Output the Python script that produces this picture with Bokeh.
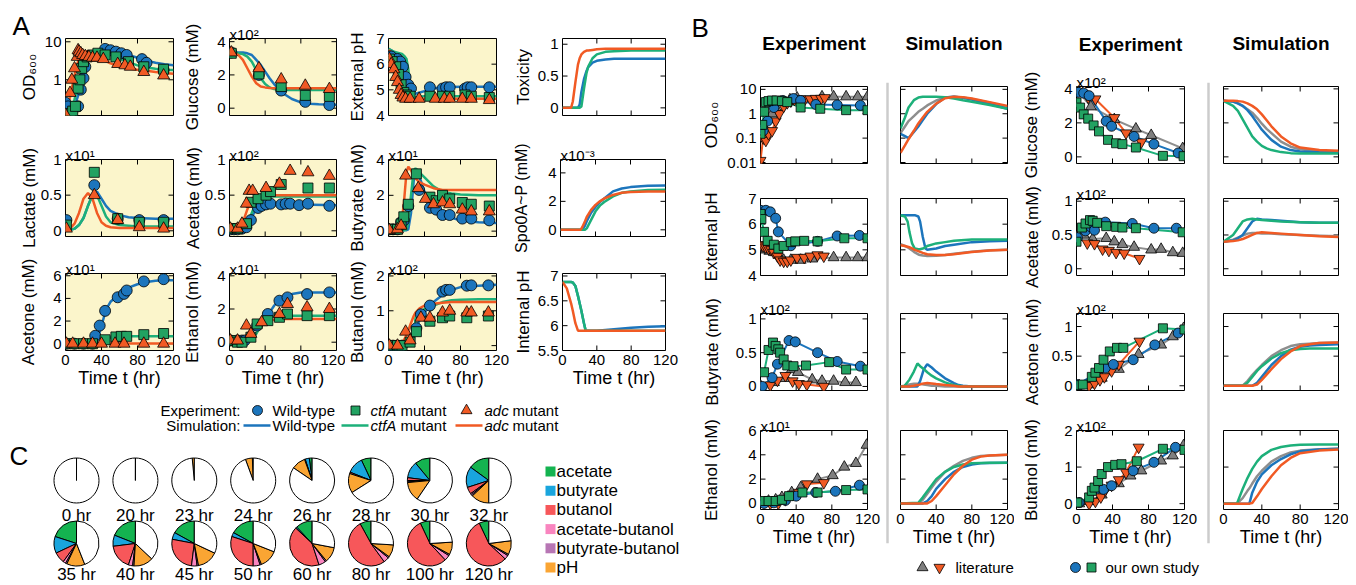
import math
from bokeh.plotting import figure
from bokeh.layouts import row, column
from bokeh.models import (Range1d, LinearAxis, LogAxis, FixedTicker, BasicTickFormatter,
                          Label, Span, Spacer)
from bokeh.embed import file_html
from bokeh.resources import INLINE
from bokeh.core.properties import value

FONT = "Liberation Sans"
BLUE = "#1C75BC"
GREEN_M = "#22A262"
GREEN_L = "#1DB07A"
RED = "#F15A24"
GRAY_M = "#7F7F7F"
GRAY_L = "#8E8E8E"
YELLOW = "#FBF5CB"
TICK_FS = 15
LAB_FS = 17
XLAB_FS = 18

TIME_TICKS = [0, 40, 80, 120]

# ======================= Panel A data =======================
a_od_wt_t = [0, 3, 14, 17, 20, 22, 44, 50, 56, 62, 68, 85, 90, 109]
a_od_wt_y = [0.25, 0.2, 0.2, 0.55, 1.1, 2.2, 6.5, 6.0, 5.5, 5.0, 4.5, 3.5, 2.8, 1.8]
a_od_ct_t = [5, 8, 11, 14, 16, 18, 20, 24, 30, 36, 44, 56, 70, 87, 109]
a_od_ct_y = [0.13, 0.15, 0.2, 0.6, 1.0, 2.0, 3.0, 4.0, 4.5, 5.0, 4.5, 4.0, 3.0, 2.2, 1.9]
a_od_adc_t = [0, 5, 7, 10, 13, 14, 15, 17, 19, 22, 26, 30, 35, 42, 58, 66, 72, 87, 109]
a_od_adc_y = [0.12, 0.45, 1.0, 2.0, 4.0, 6.0, 5.5, 5.0, 4.5, 4.2, 4.0, 3.8, 3.8, 3.5, 2.6, 2.4, 2.2, 1.6, 1.3]
a_od_sim_t = [0, 5, 10, 15, 20, 25, 30, 35, 40, 45, 50, 60, 70, 80, 90, 100, 110, 120]
a_od_sim_wt = [0.15, 0.15, 0.2, 0.45, 1.3, 3.0, 4.8, 6.0, 6.5, 6.6, 6.2, 5.2, 4.5, 3.8, 3.2, 2.8, 2.55, 2.4]
a_od_sim_ct = [0.15, 0.17, 0.3, 0.9, 2.4, 4.2, 5.3, 5.8, 5.6, 5.1, 4.5, 3.6, 2.9, 2.4, 2.1, 1.95, 1.85, 1.8]
a_od_sim_adc = [0.13, 0.35, 1.3, 3.8, 5.4, 5.6, 4.5, 4.0, 3.5, 3.1, 2.7, 2.3, 2.0, 1.85, 1.72, 1.6, 1.5, 1.45]

a_glc_t = [2, 33, 58, 85, 112]
a_glc_wt = [3.35, 2.0, 1.06, 0.38, 0.19]
a_glc_ct = [3.3, 2.06, 1.3, 0.77, 0.71]
a_glc_adc = [3.35, 2.4, 1.73, 1.35, 1.15]
a_glc_sim_t = [0, 10, 15, 20, 25, 30, 35, 40, 45, 50, 60, 70, 80, 90, 100, 120]
a_glc_sim_wt = [3.35, 3.35, 3.35, 3.3, 3.2, 2.9, 2.6, 2.2, 1.8, 1.45, 0.9, 0.55, 0.35, 0.27, 0.23, 0.2]
a_glc_sim_ct = [3.35, 3.3, 3.25, 3.1, 2.8, 2.3, 1.8, 1.45, 1.25, 1.15, 1.1, 1.1, 1.1, 1.1, 1.1, 1.1]
a_glc_sim_adc = [3.35, 3.2, 2.9, 2.4, 1.9, 1.5, 1.3, 1.25, 1.22, 1.2, 1.2, 1.2, 1.2, 1.2, 1.2, 1.2]

a_ph_wt_t = [1, 3, 10, 13, 16, 19, 22, 25, 46, 60, 64, 68, 85, 88, 92, 112]
a_ph_wt_y = [6.3, 6.3, 6.2, 6.1, 5.9, 5.5, 5.2, 5.05, 5.1, 5.05, 5.1, 5.1, 5.05, 5.1, 5.1, 5.1]
a_ph_ct_t = [1, 4, 8, 11, 14, 17, 20, 24, 46, 60, 68, 85, 92, 112]
a_ph_ct_y = [6.2, 6.1, 5.9, 5.6, 5.2, 4.9, 4.8, 4.75, 4.75, 4.75, 4.75, 4.8, 4.75, 4.7]
a_ph_adc_t = [1, 3, 6, 8, 10, 12, 14, 16, 19, 24, 34, 52, 62, 68, 82, 92, 112]
a_ph_adc_y = [6.2, 6.0, 5.8, 5.5, 5.3, 5.0, 4.8, 4.7, 4.65, 4.65, 4.65, 4.65, 4.65, 4.65, 4.65, 4.65, 4.6]
a_ph_sim_t = [0, 5, 10, 15, 18, 20, 22, 25, 28, 30, 40, 50, 60, 80, 100, 120]
a_ph_sim_wt = [6.6, 6.5, 6.3, 5.8, 5.3, 5.0, 4.85, 4.8, 4.82, 4.85, 4.95, 5.05, 5.1, 5.12, 5.12, 5.12]
a_ph_sim_ct = [6.6, 6.5, 6.45, 6.4, 6.3, 6.2, 5.8, 4.9, 4.72, 4.72, 4.75, 4.75, 4.75, 4.75, 4.75, 4.75]
a_ph_sim_adc = [6.55, 6.4, 5.6, 4.8, 4.65, 4.65, 4.65, 4.65, 4.65, 4.65, 4.65, 4.65, 4.65, 4.65, 4.65, 4.65]

a_tox_t = [0, 10, 12, 15, 18, 20, 22, 25, 28, 30, 35, 40, 50, 60, 80, 120]
a_tox_wt = [0, 0, 0, 0, 0, 0.05, 0.25, 0.45, 0.58, 0.64, 0.71, 0.74, 0.76, 0.77, 0.77, 0.77]
a_tox_ct = [0, 0, 0, 0, 0, 0, 0.02, 0.3, 0.55, 0.65, 0.78, 0.84, 0.88, 0.89, 0.9, 0.9]
a_tox_adc = [0, 0, 0.1, 0.4, 0.68, 0.78, 0.84, 0.88, 0.9, 0.9, 0.91, 0.92, 0.93, 0.93, 0.93, 0.93]

a_lac_t = [1, 32, 58, 82, 109]
a_lac_wt = [0.15, 0.64, 0.17, 0.15, 0.15]
a_lac_ct = [0.08, 0.82, 0.17, 0.12, 0.12]
a_lac_adc = [0.03, 0.5, 0.15, 0.05, 0.03]
a_lac_sim_t = [0, 5, 10, 15, 20, 25, 30, 35, 40, 45, 50, 60, 70, 80, 100, 120]
a_lac_sim_wt = [0.0, 0.01, 0.03, 0.08, 0.18, 0.35, 0.5, 0.55, 0.45, 0.35, 0.28, 0.22, 0.19, 0.18, 0.17, 0.17]
a_lac_sim_ct = [0.0, 0.01, 0.03, 0.08, 0.18, 0.35, 0.5, 0.5, 0.35, 0.2, 0.12, 0.08, 0.07, 0.06, 0.06, 0.06]
a_lac_sim_adc = [0.0, 0.03, 0.1, 0.25, 0.45, 0.53, 0.45, 0.25, 0.12, 0.07, 0.05, 0.04, 0.04, 0.04, 0.04, 0.04]

a_ace_wt_t = [1, 5, 9, 14, 19, 24, 32, 36, 41, 46, 58, 63, 68, 78, 88, 112]
a_ace_wt_y = [0.02, 0.02, 0.02, 0.03, 0.05, 0.15, 0.32, 0.35, 0.37, 0.38, 0.37, 0.38, 0.38, 0.36, 0.38, 0.35]
a_ace_ct_t = [1, 9, 19, 24, 32, 41, 46, 58, 88, 112]
a_ace_ct_y = [0.03, 0.03, 0.1, 0.4, 0.45, 0.5, 0.55, 0.65, 0.6, 0.6]
a_ace_adc_t = [1, 9, 14, 19, 22, 26, 41, 56, 68, 88, 112]
a_ace_adc_y = [0.03, 0.03, 0.1, 0.38, 0.56, 0.56, 0.6, 0.66, 0.84, 0.82, 0.77]
a_ace_sim_t = [0, 10, 15, 20, 25, 30, 35, 40, 50, 60, 80, 120]
a_ace_sim_wt = [0.03, 0.03, 0.04, 0.08, 0.2, 0.3, 0.35, 0.37, 0.38, 0.38, 0.37, 0.36]
a_ace_sim_ct = [0.03, 0.03, 0.05, 0.1, 0.25, 0.4, 0.46, 0.48, 0.48, 0.48, 0.48, 0.48]
a_ace_sim_adc = [0.03, 0.05, 0.12, 0.3, 0.45, 0.49, 0.5, 0.5, 0.5, 0.5, 0.5, 0.5]

a_but_wt_t = [1, 5, 10, 14, 17, 22, 34, 46, 53, 60, 68, 82, 92, 112]
a_but_wt_y = [0.1, 0.1, 0.1, 0.5, 0.6, 1.4, 2.3, 1.3, 1.2, 0.9, 0.9, 0.7, 0.7, 0.6]
a_but_ct_t = [1, 10, 14, 17, 22, 31, 46, 53, 60, 68, 82, 92, 112]
a_but_ct_y = [0.1, 0.1, 0.4, 0.8, 1.5, 3.2, 1.9, 1.7, 2.0, 1.8, 1.6, 1.5, 1.4]
a_but_adc_t = [1, 10, 14, 19, 33, 41, 50, 60, 68, 82, 92, 112]
a_but_adc_y = [0.05, 0.1, 0.3, 3.1, 2.4, 1.8, 1.5, 1.6, 1.5, 1.2, 1.1, 1.1]
a_but_sim_t = [0, 10, 14, 17, 20, 22, 25, 28, 30, 33, 36, 40, 50, 60, 70, 80, 100, 120]
a_but_sim_wt = [0.05, 0.05, 0.05, 0.05, 0.05, 0.1, 1.0, 2.8, 3.3, 3.2, 2.8, 2.2, 1.3, 0.95, 0.75, 0.6, 0.5, 0.45]
a_but_sim_ct = [0.05, 0.05, 0.05, 0.05, 0.1, 0.5, 2.0, 3.4, 3.5, 3.4, 3.2, 3.0, 2.5, 2.2, 2.1, 2.05, 2.0, 2.0]
a_but_sim_adc = [0.05, 0.05, 0.3, 1.5, 3.3, 3.6, 3.4, 3.1, 2.95, 2.8, 2.7, 2.6, 2.4, 2.3, 2.3, 2.3, 2.3, 2.3]

a_spo_t = [0, 20, 23, 25, 28, 30, 35, 40, 45, 50, 60, 70, 80, 100, 120]
a_spo_wt = [0, 0, 0, 0, 0.3, 0.6, 1.2, 1.6, 1.95, 2.2, 2.7, 2.9, 3.0, 3.1, 3.12]
a_spo_ct = [0, 0, 0, 0, 0, 0.1, 0.7, 1.3, 1.7, 1.95, 2.35, 2.6, 2.7, 2.8, 2.82]
a_spo_adc = [0, 0, 0, 0.2, 0.6, 0.9, 1.4, 1.75, 2.0, 2.2, 2.45, 2.6, 2.65, 2.7, 2.7]

a_act_wt_t = [1, 10, 20, 30, 33, 38, 44, 58, 65, 68, 87, 109]
a_act_wt_y = [0, 0, 0, 0, 0.7, 1.6, 2.9, 4.1, 4.4, 4.7, 5.5, 5.7]
a_act_ct_t = [1, 10, 20, 30, 44, 56, 62, 68, 87, 109]
a_act_ct_y = [0, 0, 0, 0, 0.35, 0.6, 0.65, 0.65, 0.8, 0.9]
a_act_adc_t = [1, 8, 20, 30, 40, 55, 65, 87, 109]
a_act_adc_y = [0, 0, 0, 0, 0, 0, 0, 0, 0]
a_act_sim_t = [0, 30, 35, 40, 45, 50, 60, 70, 80, 90, 100, 110, 120]
a_act_sim_wt = [0, 0, 0.2, 1.6, 3.0, 3.7, 4.4, 4.95, 5.25, 5.45, 5.55, 5.6, 5.6]
a_act_sim_ct = [0, 0, 0.0, 0.1, 0.4, 0.55, 0.63, 0.65, 0.66, 0.66, 0.66, 0.66, 0.66]
a_act_sim_adc = [0.02, 0.02, 0.02, 0.02, 0.02, 0.02, 0.02, 0.02, 0.02, 0.02, 0.02, 0.02, 0.02]

a_eth_wt_t = [1, 9, 14, 17, 31, 43, 56, 65, 87, 112]
a_eth_wt_y = [0.1, 0.1, 0.1, 0.1, 1.0, 1.7, 2.5, 2.7, 2.9, 3.0]
a_eth_ct_t = [1, 9, 14, 24, 31, 43, 56, 65, 87, 112]
a_eth_ct_y = [0.1, 0.0, 0.0, 0.3, 1.1, 1.3, 1.5, 1.7, 1.6, 1.6]
a_eth_adc_t = [1, 9, 19, 24, 36, 56, 65, 87, 112]
a_eth_adc_y = [0.1, 0.1, 1.0, 0.5, 1.2, 1.7, 2.3, 2.1, 2.0]
a_eth_sim_t = [0, 10, 15, 20, 25, 30, 35, 40, 45, 50, 60, 70, 80, 100, 120]
a_eth_sim_wt = [0.05, 0.05, 0.1, 0.3, 0.6, 0.9, 1.1, 1.4, 1.8, 2.2, 2.7, 2.9, 3.0, 3.0, 3.0]
a_eth_sim_ct = [0.1, 0.1, 0.1, 0.15, 0.25, 0.5, 1.0, 1.4, 1.5, 1.55, 1.6, 1.6, 1.6, 1.6, 1.6]
a_eth_sim_adc = [0.1, 0.1, 0.2, 0.5, 0.8, 1.0, 1.15, 1.25, 1.3, 1.35, 1.4, 1.4, 1.4, 1.4, 1.4]

a_bol_wt_t = [1, 5, 10, 15, 31, 36, 46, 60, 64, 68, 87, 92, 111]
a_bol_wt_y = [0, 0, 0, 0, 0.5, 0.9, 1.15, 1.55, 1.6, 1.6, 1.72, 1.73, 1.73]
a_bol_ct_t = [1, 10, 15, 24, 31, 46, 60, 68, 87, 111]
a_bol_ct_y = [0, 0, 0, 0.1, 0.4, 0.7, 0.8, 0.85, 0.8, 0.85]
a_bol_adc_t = [1, 10, 19, 24, 36, 46, 60, 68, 87, 92, 111]
a_bol_adc_y = [0, 0, 0.4, 0.15, 0.8, 0.8, 0.95, 1.0, 0.95, 0.95, 0.95]
a_bol_sim_t = [0, 15, 20, 25, 28, 30, 35, 40, 45, 50, 60, 70, 80, 100, 120]
a_bol_sim_wt = [0, 0, 0.05, 0.25, 0.4, 0.5, 0.75, 0.95, 1.1, 1.25, 1.45, 1.6, 1.68, 1.72, 1.75]
a_bol_sim_ct = [0, 0, 0, 0, 0.05, 0.8, 0.95, 1.05, 1.1, 1.15, 1.25, 1.3, 1.32, 1.33, 1.33]
a_bol_sim_adc = [0, 0.05, 0.3, 0.65, 0.85, 0.95, 1.08, 1.15, 1.18, 1.2, 1.23, 1.25, 1.25, 1.25, 1.25]

a_iph_t = [0, 5, 10, 12, 15, 18, 20, 22, 25, 27, 30, 40, 60, 80, 100, 120]
a_iph_wt = [6.88, 6.88, 6.88, 6.87, 6.8, 6.6, 6.45, 6.3, 6.05, 5.9, 5.9, 5.9, 5.93, 5.96, 5.98, 5.99]
a_iph_ct = [6.88, 6.88, 6.88, 6.87, 6.8, 6.6, 6.45, 6.3, 6.05, 5.9, 5.9, 5.9, 5.9, 5.9, 5.9, 5.9]
a_iph_adc = [6.88, 6.75, 6.45, 6.3, 6.05, 5.9, 5.9, 5.9, 5.9, 5.9, 5.9, 5.9, 5.9, 5.9, 5.9, 5.9]

# ======================= Panel B data =======================
b_od_lit_a_t = [0, 5, 9, 13, 17, 25, 33, 41, 69, 82, 96, 109, 120]
b_od_lit_a_y = [0.1, 0.25, 0.6, 1.0, 1.8, 3.0, 3.8, 4.5, 5.0, 5.0, 5.0, 5.0, 5.0]
b_od_lit_b_t = [0, 3, 6, 9, 13, 17, 21, 26, 30, 34, 38, 44, 50, 56, 62, 68, 72]
b_od_lit_b_y = [0.012, 0.1, 0.08, 0.15, 0.2, 0.5, 1.0, 2.0, 2.8, 3.3, 3.8, 4.0, 4.0, 4.0, 4.2, 4.2, 4.5]
b_od_own_wt_t = [0, 3, 8, 15, 25, 37, 45, 62, 86, 112]
b_od_own_wt_y = [0.22, 0.2, 0.5, 1.8, 3.5, 4.2, 3.5, 2.4, 2.3, 2.2]
b_od_own_ct_t = [0, 2, 4, 6, 9, 13, 18, 24, 30, 45, 67, 96, 120]
b_od_own_ct_y = [0.15, 0.35, 1.2, 3.0, 3.3, 3.5, 3.5, 3.3, 3.0, 1.8, 1.6, 1.4, 1.4]
b_od_sim_t = [0, 5, 9, 15, 20, 25, 30, 40, 50, 60, 70, 80, 100, 120]
b_od_sim_lit_a = [0.16, 0.3, 0.5, 0.8, 1.2, 1.6, 2.2, 3.5, 4.6, 5.0, 4.6, 4.0, 2.8, 1.9]
b_od_sim_own_wt = [0.15, 0.12, 0.1, 0.18, 0.3, 0.55, 1.0, 2.5, 4.6, 5.0, 4.5, 3.8, 2.5, 1.6]
b_od_sim_own_ct = [0.25, 0.7, 1.8, 3.6, 4.6, 5.0, 5.0, 5.0, 4.7, 4.2, 3.6, 3.1, 2.3, 1.6]
b_od_sim_lit_b = [0.025, 0.05, 0.09, 0.2, 0.4, 0.7, 1.2, 2.6, 4.3, 5.0, 4.8, 4.2, 3.0, 2.1]

b_ph_lit_a_t = [2, 6, 10, 15, 20, 26, 34, 45, 58, 82, 96, 109, 120]
b_ph_lit_a_y = [5.05, 5.0, 4.95, 4.9, 4.8, 4.6, 4.6, 4.6, 4.65, 4.7, 4.7, 4.7, 4.7]
b_ph_lit_b_t = [0, 3, 6, 9, 12, 15, 19, 22, 26, 30, 34, 41, 49, 56, 64, 71]
b_ph_lit_b_y = [5.2, 5.15, 5.1, 5.05, 5.0, 4.9, 4.75, 4.6, 4.55, 4.55, 4.6, 4.7, 4.7, 4.75, 4.8, 4.75]
b_ph_own_wt_t = [0, 6, 11, 17, 20, 34, 64, 86, 111]
b_ph_own_wt_y = [6.54, 6.54, 6.48, 6.23, 5.7, 5.16, 5.33, 5.54, 5.56]
b_ph_own_ct_t = [0, 1, 4, 8, 15, 20, 26, 34, 39, 49, 64, 94, 120]
b_ph_own_ct_y = [6.4, 6.2, 5.7, 5.35, 5.2, 5.05, 5.15, 5.3, 5.33, 5.35, 5.33, 5.45, 5.45]
b_ph_sim_t = [0, 5, 8, 10, 13, 16, 20, 22, 25, 28, 30, 40, 50, 60, 80, 100, 120]
b_ph_sim_lit_a = [5.22, 5.15, 5.1, 5.05, 4.98, 4.9, 4.82, 4.8, 4.78, 4.77, 4.76, 4.77, 4.8, 4.85, 4.93, 4.98, 5.0]
b_ph_sim_own_wt = [6.35, 6.35, 6.35, 6.35, 6.35, 6.35, 6.3, 6.1, 5.5, 5.05, 5.0, 5.05, 5.15, 5.2, 5.3, 5.33, 5.35]
b_ph_sim_own_ct = [6.35, 6.3, 6.1, 5.7, 5.25, 5.05, 5.02, 5.02, 5.05, 5.1, 5.15, 5.25, 5.3, 5.35, 5.4, 5.4, 5.4]
b_ph_sim_lit_b = [5.18, 5.15, 5.12, 5.1, 5.06, 5.0, 4.95, 4.92, 4.88, 4.85, 4.83, 4.8, 4.8, 4.83, 4.92, 4.97, 5.0]

b_but_lit_a_t = [0, 15, 28, 35, 42, 58, 69, 82, 95, 107]
b_but_lit_a_y = [0.01, 0.06, 0.12, 0.25, 0.21, 0.1, 0.08, 0.08, 0.06, 0.06]
b_but_lit_b_t = [11, 19, 28, 36, 43, 52, 71]
b_but_lit_b_y = [0.02, 0.09, 0.16, 0.08, 0.04, 0.03, 0.0]
b_but_own_wt_t = [2, 13, 19, 32, 39, 64, 86, 112]
b_but_own_wt_y = [0.0, 0.13, 0.33, 0.68, 0.66, 0.5, 0.37, 0.3]
b_but_own_ct_t = [4, 9, 14, 17, 20, 22, 26, 30, 37, 51, 77, 96, 120]
b_but_own_ct_y = [0.21, 0.54, 0.65, 0.6, 0.55, 0.5, 0.4, 0.31, 0.3, 0.31, 0.36, 0.25, 0.25]
b_but_sim_t = [0, 4, 10, 15, 19, 22, 26, 30, 35, 40, 50, 60, 65, 70, 80, 100, 120]
b_but_sim_lit_a = [0, 0.01, 0.03, 0.04, 0.04, 0.04, 0.03, 0.02, 0.01, 0.01, 0, 0, 0, 0, 0, 0, 0]
b_but_sim_own_wt = [0, 0, 0, 0, 0, 0.08, 0.25, 0.33, 0.28, 0.22, 0.12, 0.05, 0.02, 0.01, 0, 0, 0]
b_but_sim_own_ct = [0, 0, 0.1, 0.22, 0.34, 0.3, 0.26, 0.21, 0.16, 0.12, 0.06, 0.02, 0.01, 0.0, 0, 0, 0]
b_but_sim_lit_b = [0, 0, 0, 0.01, 0.02, 0.03, 0.045, 0.05, 0.045, 0.035, 0.02, 0.01, 0, 0, 0, 0, 0]

b_eth_lit_a_t = [0, 9, 17, 24, 35, 45, 64, 81, 94, 107, 119]
b_eth_lit_a_y = [0.05, 0.2, 0.3, 0.5, 0.9, 1.3, 2.0, 2.3, 3.0, 3.3, 4.8]
b_eth_lit_b_t = [11, 20, 28, 36, 43, 52, 71]
b_eth_lit_b_y = [0.0, 0.0, 0.3, 0.75, 0.9, 1.6, 1.7]
b_eth_own_wt_t = [4, 15, 28, 40, 62, 84, 111]
b_eth_own_wt_y = [0.0, 0.05, 0.25, 0.6, 0.9, 1.0, 1.5]
b_eth_own_ct_t = [2, 9, 17, 24, 32, 47, 64, 96, 120]
b_eth_own_ct_y = [0.2, 0.2, 0.2, 0.3, 0.6, 0.9, 0.9, 1.1, 1.15]
b_eth_sim_t = [0, 20, 25, 30, 35, 40, 50, 60, 70, 80, 90, 100, 120]
b_eth_sim_lit_a = [0, 0, 0.3, 0.8, 1.3, 1.8, 2.6, 3.1, 3.5, 3.75, 3.9, 3.95, 4.0]
b_eth_sim_own_wt = [0, 0, 0, 0.2, 0.6, 1.2, 2.0, 2.6, 3.0, 3.2, 3.3, 3.32, 3.35]
b_eth_sim_own_ct = [0, 0.05, 0.5, 1.0, 1.5, 2.0, 2.6, 3.0, 3.2, 3.3, 3.33, 3.35, 3.35]
b_eth_sim_lit_b = [0, 0, 0, 0, 0.2, 0.6, 1.5, 2.4, 3.1, 3.6, 3.85, 3.95, 4.0]

b_glc_lit_a_t = [1, 16, 42, 66, 83, 118]
b_glc_lit_a_y = [3.9, 2.95, 2.2, 1.65, 1.27, 0.5]
b_glc_lit_b_t = [13, 21, 42, 55, 72]
b_glc_lit_b_y = [3.5, 3.4, 2.3, 1.4, 0.87]
b_glc_own_wt_t = [2, 8, 14, 33, 39, 64, 86, 113]
b_glc_own_wt_y = [3.8, 3.75, 3.6, 2.1, 1.8, 1.2, 0.75, 0.23]
b_glc_own_ct_t = [0, 4, 8, 13, 19, 25, 35, 44, 51, 66, 96, 119]
b_glc_own_ct_y = [3.2, 2.9, 2.5, 2.25, 1.85, 1.5, 1.0, 0.8, 0.75, 0.55, 0.06, 0.04]
b_glc_sim_t = [0, 10, 15, 20, 25, 30, 35, 40, 45, 50, 60, 70, 80, 100, 120]
b_glc_sim_lit_a = [3.3, 3.25, 3.15, 3.0, 2.8, 2.6, 2.3, 1.95, 1.65, 1.4, 0.9, 0.6, 0.45, 0.33, 0.3]
b_glc_sim_own_wt = [3.3, 3.25, 3.15, 3.0, 2.75, 2.4, 2.0, 1.6, 1.3, 1.0, 0.6, 0.4, 0.32, 0.27, 0.25]
b_glc_sim_own_ct = [3.3, 3.0, 2.7, 2.2, 1.7, 1.2, 0.9, 0.65, 0.5, 0.4, 0.28, 0.22, 0.2, 0.2, 0.2]
b_glc_sim_lit_b = [3.3, 3.3, 3.28, 3.25, 3.15, 3.0, 2.8, 2.5, 2.15, 1.8, 1.2, 0.8, 0.55, 0.4, 0.36]

b_ace_lit_a_t = [0, 8, 18, 33, 42, 51, 64, 83, 94, 107, 118]
b_ace_lit_a_y = [0.47, 0.5, 0.44, 0.45, 0.4, 0.36, 0.32, 0.28, 0.29, 0.24, 0.23]
b_ace_lit_b_t = [12, 20, 29, 36, 44, 53, 70]
b_ace_lit_b_y = [0.38, 0.37, 0.29, 0.27, 0.24, 0.23, 0.15]
b_ace_own_wt_t = [1, 10, 16, 20, 32, 62, 86, 111]
b_ace_own_wt_y = [0.46, 0.56, 0.62, 0.57, 0.69, 0.67, 0.6, 0.6]
b_ace_own_ct_t = [0, 6, 10, 15, 18, 23, 33, 44, 51, 66, 118]
b_ace_own_ct_y = [0.4, 0.61, 0.67, 0.72, 0.71, 0.68, 0.63, 0.62, 0.61, 0.6, 0.54]
b_ace_sim_t = [0, 10, 15, 20, 25, 30, 35, 40, 50, 60, 80, 100, 120]
b_ace_sim_lit_a = [0.4, 0.43, 0.46, 0.49, 0.52, 0.53, 0.53, 0.52, 0.52, 0.51, 0.5, 0.49, 0.48]
b_ace_sim_own_wt = [0.4, 0.42, 0.45, 0.5, 0.6, 0.7, 0.74, 0.73, 0.72, 0.71, 0.69, 0.68, 0.68]
b_ace_sim_own_ct = [0.4, 0.5, 0.6, 0.7, 0.73, 0.74, 0.73, 0.72, 0.71, 0.7, 0.69, 0.68, 0.68]
b_ace_sim_lit_b = [0.4, 0.41, 0.42, 0.44, 0.47, 0.5, 0.53, 0.54, 0.53, 0.52, 0.5, 0.48, 0.47]

b_act_lit_a_t = [3, 14, 28, 47, 69, 94, 107, 119]
b_act_lit_a_y = [0.0, 0.02, 0.13, 0.28, 0.53, 0.69, 0.83, 0.97]
b_act_lit_b_t = [14, 20, 26, 31, 39, 47, 70]
b_act_lit_b_y = [0.0, 0.04, 0.1, 0.15, 0.25, 0.36, 0.75]
b_act_own_wt_t = [1, 32, 41, 63, 87, 113]
b_act_own_wt_y = [0.02, 0.3, 0.36, 0.44, 0.69, 0.89]
b_act_own_ct_t = [1, 7, 17, 21, 25, 30, 37, 45, 52, 96, 120]
b_act_own_ct_y = [0.01, 0.02, 0.15, 0.22, 0.3, 0.44, 0.58, 0.64, 0.64, 0.97, 0.95]
b_act_sim_t = [0, 20, 25, 30, 35, 40, 50, 60, 70, 80, 90, 100, 120]
b_act_sim_lit_a = [0, 0, 0.08, 0.18, 0.27, 0.35, 0.5, 0.6, 0.67, 0.7, 0.71, 0.72, 0.73]
b_act_sim_own_wt = [0, 0, 0, 0, 0.05, 0.15, 0.35, 0.5, 0.61, 0.66, 0.68, 0.69, 0.7]
b_act_sim_own_ct = [0, 0, 0.05, 0.15, 0.25, 0.33, 0.46, 0.55, 0.6, 0.62, 0.63, 0.63, 0.63]
b_act_sim_lit_b = [0, 0, 0, 0, 0.02, 0.1, 0.28, 0.45, 0.58, 0.67, 0.7, 0.72, 0.73]

b_bol_lit_a_t = [3, 14, 28, 47, 60, 72, 94, 107, 119]
b_bol_lit_a_y = [0.0, 0.06, 0.24, 0.55, 0.76, 0.9, 1.17, 1.31, 1.59]
b_bol_lit_b_t = [14, 21, 27, 32, 39, 47, 55, 69]
b_bol_lit_b_y = [0.0, 0.06, 0.18, 0.37, 0.5, 0.65, 0.85, 1.54]
b_bol_own_wt_t = [3, 30, 39, 63, 86, 110]
b_bol_own_wt_y = [0.03, 0.39, 0.49, 0.9, 1.13, 1.54]
b_bol_own_ct_t = [1, 14, 17, 20, 24, 28, 35, 43, 50, 67, 96, 120]
b_bol_own_ct_y = [0.03, 0.17, 0.35, 0.44, 0.62, 0.81, 1.0, 1.06, 1.08, 1.16, 1.5, 1.47]
b_bol_sim_t = [0, 14, 20, 25, 27, 30, 35, 40, 50, 60, 70, 80, 100, 120]
b_bol_sim_lit_a = [0, 0, 0.15, 0.35, 0.42, 0.55, 0.75, 0.9, 1.15, 1.3, 1.4, 1.45, 1.49, 1.5]
b_bol_sim_own_wt = [0, 0, 0, 0, 0, 0.3, 0.6, 0.8, 1.05, 1.22, 1.35, 1.43, 1.48, 1.5]
b_bol_sim_own_ct = [0, 0, 0.4, 0.7, 0.8, 0.95, 1.15, 1.3, 1.47, 1.55, 1.59, 1.61, 1.62, 1.62]
b_bol_sim_lit_b = [0, 0, 0, 0, 0, 0.02, 0.2, 0.4, 0.75, 1.05, 1.25, 1.38, 1.45, 1.48]

# ======================= Panel C data =======================
pie_times = [0, 20, 23, 24, 26, 28, 30, 32, 35, 40, 45, 50, 60, 80, 100, 120]
pie_cats = ["acetate", "butyrate", "butanol", "acetate-butanol", "butyrate-butanol", "pH"]
pie_colors = ["#14B350", "#19A5DD", "#F7575A", "#F985BF", "#B776B4", "#FAA533"]
pie_acetate = [0, 0, 0, 0.003, 0.02, 0.07, 0.11, 0.15, 0.20, 0.19, 0.17, 0.17, 0.12, 0.08, 0.07, 0.07]
pie_butyrate = [0, 0, 0, 0.003, 0.03, 0.12, 0.12, 0.15, 0.12, 0.08, 0.05, 0.03, 0.01, 0.0, 0.0, 0.0]
pie_butanol = [0, 0, 0, 0, 0.005, 0.01, 0.02, 0.05, 0.08, 0.18, 0.26, 0.30, 0.42, 0.52, 0.55, 0.56]
pie_acetate_butanol = [0, 0, 0, 0, 0, 0, 0.01, 0.01, 0.02, 0.03, 0.04, 0.05, 0.05, 0.04, 0.04, 0.03]
pie_butyrate_butanol = [0, 0, 0, 0, 0, 0, 0.005, 0.01, 0.01, 0.01, 0.01, 0.01, 0.01, 0.01, 0.01, 0.01]
pie_ph = [0, 0, 0.015, 0.05, 0.10, 0.14, 0.14, 0.13, 0.13, 0.14, 0.15, 0.13, 0.11, 0.09, 0.09, 0.10]
pie_fracs = [pie_acetate, pie_butyrate, pie_butanol, pie_acetate_butanol, pie_butyrate_butanol, pie_ph]

# ======================= helpers =======================
CW = {c: 0.556 for c in "0123456789"}
CW["."] = 0.278
CW["-"] = 0.333


def fmt(v):
    return "%g" % v


def text_w(s, fs):
    return sum(CW.get(c, 0.556) for c in s) * fs


def style_axis(ax):
    ax.major_tick_in = 0
    ax.major_tick_out = 0
    ax.minor_tick_in = 0
    ax.minor_tick_out = 0
    ax.axis_line_color = None
    ax.major_label_text_font = FONT
    ax.major_label_text_color = "black"
    ax.major_label_text_font_size = f"{TICK_FS}px"
    ax.major_label_standoff = 4
    ax.axis_label_text_font = FONT
    ax.axis_label_text_font_style = "normal"
    ax.axis_label_text_font_size = f"{LAB_FS}px"
    ax.axis_label_text_color = "black"


def bare_fig(w, h, xr, yr, **kw):
    p = figure(width=w, height=h, x_range=Range1d(*xr), y_range=Range1d(*yr),
               x_axis_location=None, y_axis_location=None, title=None, toolbar_location=None,
               output_backend="svg", **kw)
    p.grid.visible = False
    p.outline_line_color = None
    return p


def make_plot(w, h, bl, br, bt, bb, yr, yticks, ylog=False, bg="white",
              show_x=False, show_y=True, ylabel=None, ylab_gap=0, ylab_fs=LAB_FS):
    p = figure(width=w, height=h, x_range=Range1d(0, 120), y_range=Range1d(*yr),
               y_axis_type="log" if ylog else "linear",
               x_axis_location=None, y_axis_location=None, title=None,
               toolbar_location=None, output_backend="svg",
               min_border_left=bl, min_border_right=br,
               min_border_top=bt, min_border_bottom=bb)
    p.grid.visible = False
    p.background_fill_color = bg
    p.border_fill_color = "white"
    p.outline_line_color = "black"
    p.outline_line_width = 1
    if show_x:
        ax = LinearAxis(ticker=FixedTicker(ticks=TIME_TICKS, minor_ticks=[]))
        style_axis(ax)
        ax.axis_label = "Time t (hr)"
        ax.axis_label_text_font_size = f"{XLAB_FS}px"
        ax.axis_label_standoff = 0
        p.add_layout(ax, "below")
    if show_y and ylabel:
        AxY = LogAxis if ylog else LinearAxis
        ax = AxY(ticker=FixedTicker(ticks=yticks, minor_ticks=[]),
                 formatter=BasicTickFormatter(use_scientific=False))
        style_axis(ax)
        ax.axis_label = ylabel
        ax.axis_label_text_font_size = f"{ylab_fs}px"
        lw = max(text_w(fmt(v), TICK_FS) for v in yticks if yr[0] <= v <= yr[1])
        ax.axis_label_standoff = int(round(ylab_gap - 4 - lw))
        p.add_layout(ax, "left")
    yt_in = [v for v in yticks if yr[0] <= v <= yr[1]]
    nx, ny = len(TIME_TICKS), len(yt_in)
    tk = dict(length=5, length_units="screen", line_color="black", line_width=1)
    p.ray(x=TIME_TICKS, y=[yr[0]] * nx, angle=math.pi / 2, **tk)
    p.ray(x=TIME_TICKS, y=[yr[1]] * nx, angle=-math.pi / 2, **tk)
    p.ray(x=[0] * ny, y=yt_in, angle=0, **tk)
    p.ray(x=[120] * ny, y=yt_in, angle=math.pi, **tk)
    return p


def top_label(p, text, x, y, size="15px", style="normal", align="left", baseline="alphabetic"):
    p.add_layout(Label(x=x, y=y, x_units="screen", y_units="screen", text=text,
                       text_font=FONT, text_font_size=size, text_font_style=style,
                       text_color="black", text_align=align, text_baseline=baseline), "above")


SUP = {"1": "¹", "2": "²", "-3": "⁻³"}
STACK_15 = 18
STACK_19 = 23


def add_sim(p, t, series, colors, width=2.5):
    for ys, c in zip(series, colors):
        p.line(t, ys, line_color=c, line_width=width)


def add_markers(p, sets):
    for t, y, marker, color, size in sets:
        p.scatter(t, y, marker=marker, size=size, fill_color=color,
                  line_color="black", line_width=0.8)


# ======================= Panel A =======================
A_W = [172, 165, 165, 180]
A_BL = [57, 48, 43, 47]
A_BR = [7, 9, 14, 25]
A_GAP = [24, 24, 18, 27]
A_ROW = [(132, 28, 25), (115, 19, 19), (142, 18, 47)]
SIM_COLORS_A = [BLUE, GREEN_L, RED]

a_specs = [
    dict(ylabel="OD₆₀₀", yr=(0.115, 12.2), yt=[0.1, 1, 10], log=True, mult=None, bg=YELLOW,
         exp=[(a_od_wt_t, a_od_wt_y), (a_od_ct_t, a_od_ct_y), (a_od_adc_t, a_od_adc_y)],
         sim=(a_od_sim_t, [a_od_sim_wt, a_od_sim_ct, a_od_sim_adc])),
    dict(ylabel="Glucose (mM)", yr=(-0.44, 4.19), yt=[0, 2, 4], log=False, mult="2", bg=YELLOW,
         exp=[(a_glc_t, a_glc_wt), (a_glc_t, a_glc_ct), (a_glc_t, a_glc_adc)],
         sim=(a_glc_sim_t, [a_glc_sim_wt, a_glc_sim_ct, a_glc_sim_adc])),
    dict(ylabel="External pH", yr=(4, 7), yt=[4, 5, 6, 7], log=False, mult=None, bg=YELLOW,
         exp=[(a_ph_wt_t, a_ph_wt_y), (a_ph_ct_t, a_ph_ct_y), (a_ph_adc_t, a_ph_adc_y)],
         sim=(a_ph_sim_t, [a_ph_sim_wt, a_ph_sim_ct, a_ph_sim_adc])),
    dict(ylabel="Toxicity", yr=(-0.12, 1.09), yt=[0, 0.5, 1], log=False, mult=None, bg="white",
         exp=[], sim=(a_tox_t, [a_tox_wt, a_tox_ct, a_tox_adc])),
    dict(ylabel="Lactate (mM)", yr=(-0.08, 1.0), yt=[0, 0.5, 1], log=False, mult="1", bg=YELLOW,
         exp=[(a_lac_t, a_lac_wt), (a_lac_t, a_lac_ct), (a_lac_t, a_lac_adc)],
         sim=(a_lac_sim_t, [a_lac_sim_wt, a_lac_sim_ct, a_lac_sim_adc])),
    dict(ylabel="Acetate (mM)", yr=(-0.08, 1.0), yt=[0, 0.5, 1], log=False, mult="2", bg=YELLOW,
         exp=[(a_ace_wt_t, a_ace_wt_y), (a_ace_ct_t, a_ace_ct_y), (a_ace_adc_t, a_ace_adc_y)],
         sim=(a_ace_sim_t, [a_ace_sim_wt, a_ace_sim_ct, a_ace_sim_adc])),
    dict(ylabel="Butyrate (mM)", yr=(-0.3, 4.0), yt=[0, 2, 4], log=False, mult="1", bg=YELLOW,
         exp=[(a_but_wt_t, a_but_wt_y), (a_but_ct_t, a_but_ct_y), (a_but_adc_t, a_but_adc_y)],
         sim=(a_but_sim_t, [a_but_sim_wt, a_but_sim_ct, a_but_sim_adc])),
    dict(ylabel="Spo0A~P (mM)", yr=(-0.47, 4.94), yt=[0, 2, 4], log=False, mult="-3", bg="white",
         exp=[], sim=(a_spo_t, [a_spo_wt, a_spo_ct, a_spo_adc]), lfs=16),
    dict(ylabel="Acetone (mM)", yr=(-0.6, 6.2), yt=[0, 2, 4, 6], log=False, mult="1", bg=YELLOW,
         exp=[(a_act_wt_t, a_act_wt_y), (a_act_ct_t, a_act_ct_y), (a_act_adc_t, a_act_adc_y)],
         sim=(a_act_sim_t, [a_act_sim_wt, a_act_sim_ct, a_act_sim_adc])),
    dict(ylabel="Ethanol (mM)", yr=(-0.5, 4.14), yt=[0, 2, 4], log=False, mult="1", bg=YELLOW,
         exp=[(a_eth_wt_t, a_eth_wt_y), (a_eth_ct_t, a_eth_ct_y), (a_eth_adc_t, a_eth_adc_y)],
         sim=(a_eth_sim_t, [a_eth_sim_wt, a_eth_sim_ct, a_eth_sim_adc])),
    dict(ylabel="Butanol (mM)", yr=(-0.14, 2.07), yt=[0, 1, 2], log=False, mult="2", bg=YELLOW,
         exp=[(a_bol_wt_t, a_bol_wt_y), (a_bol_ct_t, a_bol_ct_y), (a_bol_adc_t, a_bol_adc_y)],
         sim=(a_bol_sim_t, [a_bol_sim_wt, a_bol_sim_ct, a_bol_sim_adc])),
    dict(ylabel="Internal pH", yr=(5.5, 7.05), yt=[5.5, 6, 6.5, 7], log=False, mult=None, bg="white",
         exp=[], sim=(a_iph_t, [a_iph_wt, a_iph_ct, a_iph_adc])),
]

A_MARK = [("circle", BLUE, 11), ("square", GREEN_M, 10), ("triangle", RED, 12)]

a_rows = []
for r in range(3):
    h, bt, bb = A_ROW[r]
    figs = []
    for c in range(4):
        s = a_specs[r * 4 + c]
        p = make_plot(A_W[c], h, A_BL[c], A_BR[c], bt, bb, s["yr"], s["yt"], ylog=s["log"],
                      bg=s["bg"], show_x=(r == 2), ylabel=s["ylabel"], ylab_gap=A_GAP[c],
                      ylab_fs=s.get("lfs", LAB_FS))
        st, sys_ = s["sim"]
        add_sim(p, st, sys_, SIM_COLORS_A)
        add_markers(p, [(t, y, m, col, sz) for (t, y), (m, col, sz) in zip(s["exp"], A_MARK)])
        if s["mult"]:
            top_label(p, "x10" + SUP[s["mult"]], 0, 4)
        if r == 0 and c == 0:
            top_label(p, "A", -53, 13, size="26px", baseline="middle")
        figs.append(p)
    a_rows.append(row(*figs))

# ---- Panel A legend ----
legA = bare_fig(682, 36, (0, 682), (0, 36), min_border_left=0, min_border_right=0,
                min_border_top=0, min_border_bottom=0)
LEG_Y = [23, 8]
legA.text(x=[232, 232], y=LEG_Y, text=["Experiment:", "Simulation:"], text_align="right",
          text_baseline="middle", text_font=value(FONT), text_font_size=value("15px"),
          text_color="black")
leg_items_x = [249, 347, 458]
leg_text_x = [264, 362, 476]
leg_italic = [None, "ctfA", "adc"]
leg_italic_w = [0, 30, 28]
LEG_MARK = [("circle", BLUE, 10), ("square", GREEN_M, 9), ("triangle", RED, 11)]
for (m, col, sz), lx, tx, it, iw, lc in zip(LEG_MARK, leg_items_x, leg_text_x, leg_italic,
                                             leg_italic_w, SIM_COLORS_A):
    legA.scatter([lx], [LEG_Y[0]], marker=m, size=sz, fill_color=col, line_color="black",
                 line_width=0.8)
    legA.line([tx - 29, tx - 2], [LEG_Y[1], LEG_Y[1]], line_color=lc, line_width=2.5)
    for yy in LEG_Y:
        if it is None:
            legA.text(x=[tx], y=[yy], text=["Wild-type"], text_baseline="middle",
                      text_font=value(FONT), text_font_size=value("15px"), text_color="black")
        else:
            legA.text(x=[tx], y=[yy], text=[it], text_baseline="middle", text_font=value(FONT),
                      text_font_size=value("15px"), text_font_style="italic", text_color="black")
            legA.text(x=[tx + iw], y=[yy], text=["mutant"], text_baseline="middle",
                      text_font=value(FONT), text_font_size=value("15px"), text_color="black")

# ---- Panel C (pies) ----
C_H = 150
figC = bare_fig(682, C_H, (0, 682), (0, C_H), min_border_left=0, min_border_right=0,
                min_border_top=0, min_border_bottom=0)
PIE_X0, PIE_DX, PIE_ROW_Y, PIE_LAB_OFF, PIE_R = 68, 58.9, [103, 40], [35, 31], 22.5
wx, wy, ws, we, wc = [], [], [], [], []
lx, ly, lt = [], [], []
for i, tm in enumerate(pie_times):
    rr, cc = divmod(i, 8)
    cx = PIE_X0 + cc * PIE_DX
    cy = PIE_ROW_Y[rr]
    a = math.pi / 2
    for fr, col in zip(pie_fracs, pie_colors):
        f = fr[i]
        if f <= 0:
            continue
        b = a + 2 * math.pi * f
        wx.append(cx); wy.append(cy); ws.append(a); we.append(b); wc.append(col)
        a = b
    wx.append(cx); wy.append(cy); ws.append(a); we.append(math.pi / 2 + 2 * math.pi - 0.002)
    wc.append("white")
    lx.append(cx); ly.append(cy - PIE_LAB_OFF[rr]); lt.append(f"{tm} hr")
figC.wedge(x=wx, y=wy, radius=PIE_R, start_angle=ws, end_angle=we, direction="anticlock",
           fill_color=wc, line_color="black", line_width=1)
figC.text(x=lx, y=ly, text=lt, text_align="center", text_baseline="middle",
          text_font=value(FONT), text_font_size=value("17px"), text_color="black")
leg_y = [112 - 19.2 * k for k in range(len(pie_cats))]
figC.scatter(x=[542] * len(pie_cats), y=leg_y, marker="square", size=10,
             fill_color=pie_colors, line_color=None)
figC.text(x=[548] * len(pie_cats), y=leg_y, text=pie_cats, text_baseline="middle",
          text_font=value(FONT), text_font_size=value("17px"), text_color="black")
figC.text(x=[1], y=[128], text=["C"], text_baseline="alphabetic", text_font=value(FONT),
          text_font_size=value("26px"), text_color="black")

left_block = column(*a_rows, legA, figC)

# ======================= Panel B =======================
B_W = [194, 124, 191, 137]
B_BL = [70, 10, 62, 12]
B_BR = [17, 7, 21, 10]
B_GAP = {0: 36, 2: 32}
B_ROW = [(172, 78, 17), (115, 18, 20), (117, 18, 22), (143, 18, 46)]
B_HEAD = ["Experiment", "Simulation", "Experiment", "Simulation"]
B_SIM_COLORS = [GRAY_L, BLUE, GREEN_L, RED]

b_specs = [
    [
        dict(ylabel="OD₆₀₀", yr=(0.0091, 13.1), yt=[0.01, 0.1, 1, 10], log=True, mult=None,
             exp=[(b_od_lit_a_t, b_od_lit_a_y), (b_od_lit_b_t, b_od_lit_b_y),
                  (b_od_own_wt_t, b_od_own_wt_y), (b_od_own_ct_t, b_od_own_ct_y)],
             sim=(b_od_sim_t, [b_od_sim_lit_a, b_od_sim_own_wt, b_od_sim_own_ct, b_od_sim_lit_b])),
        dict(ylabel="External pH", yr=(4, 7), yt=[4, 5, 6, 7], log=False, mult=None,
             exp=[(b_ph_lit_a_t, b_ph_lit_a_y), (b_ph_lit_b_t, b_ph_lit_b_y),
                  (b_ph_own_wt_t, b_ph_own_wt_y), (b_ph_own_ct_t, b_ph_own_ct_y)],
             sim=(b_ph_sim_t, [b_ph_sim_lit_a, b_ph_sim_own_wt, b_ph_sim_own_ct, b_ph_sim_lit_b])),
        dict(ylabel="Butyrate (mM)", yr=(-0.06, 1.08), yt=[0, 0.5, 1], log=False, mult="2",
             exp=[(b_but_lit_a_t, b_but_lit_a_y), (b_but_lit_b_t, b_but_lit_b_y),
                  (b_but_own_wt_t, b_but_own_wt_y), (b_but_own_ct_t, b_but_own_ct_y)],
             sim=(b_but_sim_t, [b_but_sim_lit_a, b_but_sim_own_wt, b_but_sim_own_ct, b_but_sim_lit_b])),
        dict(ylabel="Ethanol (mM)", yr=(-0.5, 6.0), yt=[0, 2, 4, 6], log=False, mult="1",
             exp=[(b_eth_lit_a_t, b_eth_lit_a_y), (b_eth_lit_b_t, b_eth_lit_b_y),
                  (b_eth_own_wt_t, b_eth_own_wt_y), (b_eth_own_ct_t, b_eth_own_ct_y)],
             sim=(b_eth_sim_t, [b_eth_sim_lit_a, b_eth_sim_own_wt, b_eth_sim_own_ct, b_eth_sim_lit_b])),
    ],
    [
        dict(ylabel="Glucose (mM)", yr=(-0.39, 4.14), yt=[0, 2, 4], log=False, mult="2",
             exp=[(b_glc_lit_a_t, b_glc_lit_a_y), (b_glc_lit_b_t, b_glc_lit_b_y),
                  (b_glc_own_wt_t, b_glc_own_wt_y), (b_glc_own_ct_t, b_glc_own_ct_y)],
             sim=(b_glc_sim_t, [b_glc_sim_lit_a, b_glc_sim_own_wt, b_glc_sim_own_ct, b_glc_sim_lit_b])),
        dict(ylabel="Acetate (mM)", yr=(-0.1, 1.04), yt=[0, 0.5, 1], log=False, mult="2",
             exp=[(b_ace_lit_a_t, b_ace_lit_a_y), (b_ace_lit_b_t, b_ace_lit_b_y),
                  (b_ace_own_wt_t, b_ace_own_wt_y), (b_ace_own_ct_t, b_ace_own_ct_y)],
             sim=(b_ace_sim_t, [b_ace_sim_lit_a, b_ace_sim_own_wt, b_ace_sim_own_ct, b_ace_sim_lit_b])),
        dict(ylabel="Acetone (mM)", yr=(-0.08, 1.22), yt=[0, 0.5, 1], log=False, mult="2",
             exp=[(b_act_lit_a_t, b_act_lit_a_y), (b_act_lit_b_t, b_act_lit_b_y),
                  (b_act_own_wt_t, b_act_own_wt_y), (b_act_own_ct_t, b_act_own_ct_y)],
             sim=(b_act_sim_t, [b_act_sim_lit_a, b_act_sim_own_wt, b_act_sim_own_ct, b_act_sim_lit_b])),
        dict(ylabel="Butanol (mM)", yr=(-0.16, 2.0), yt=[0, 1, 2], log=False, mult="2",
             exp=[(b_bol_lit_a_t, b_bol_lit_a_y), (b_bol_lit_b_t, b_bol_lit_b_y),
                  (b_bol_own_wt_t, b_bol_own_wt_y), (b_bol_own_ct_t, b_bol_own_ct_y)],
             sim=(b_bol_sim_t, [b_bol_sim_lit_a, b_bol_sim_own_wt, b_bol_sim_own_ct, b_bol_sim_lit_b])),
    ],
]
B_MARK = [("triangle", GRAY_M, 11), ("inverted_triangle", RED, 11),
          ("circle", BLUE, 10), ("square", GREEN_M, 9)]
B_EXP_LINE = [GRAY_L, RED, BLUE, GREEN_L]


def b_column(ci):
    pair = b_specs[ci // 2]
    is_exp = ci % 2 == 0
    figs = []
    for r in range(4):
        s = pair[r]
        h, bt, bb = B_ROW[r]
        p = make_plot(B_W[ci], h, B_BL[ci], B_BR[ci], bt, bb, s["yr"], s["yt"], ylog=s["log"],
                      show_x=(r == 3), show_y=is_exp, ylabel=s["ylabel"] if is_exp else None,
                      ylab_gap=B_GAP.get(ci, 0))
        stacked = 0
        if is_exp:
            for (t, y), lc in zip(s["exp"], B_EXP_LINE):
                p.line(t, y, line_color=lc, line_width=2)
            add_markers(p, [(t, y, m, col, sz) for (t, y), (m, col, sz) in zip(s["exp"], B_MARK)])
            if s["mult"]:
                top_label(p, "x10" + SUP[s["mult"]], 0, 4)
                stacked += STACK_15
        else:
            st, sys_ = s["sim"]
            add_sim(p, st, sys_, B_SIM_COLORS)
        if r == 0:
            fw = B_W[ci] - B_BL[ci] - B_BR[ci]
            top_label(p, B_HEAD[ci], fw / 2, 43 - stacked, size="19px", style="bold",
                      align="center", baseline="middle")
            stacked += STACK_19
            if ci == 0:
                top_label(p, "B", -69, 61 - stacked, size="26px", baseline="middle")
        figs.append(p)
    return figs


def divider():
    p = bare_fig(6, 547, (0, 1), (0, 1), min_border_left=0, min_border_right=0,
                 min_border_top=74, min_border_bottom=12)
    p.add_layout(Span(location=0.5, dimension="height", line_color="#CCCCCC", line_width=2.5))
    return p


# ---- Panel B legend strip ----
legB = bare_fig(658, 22, (0, 658), (0, 22), min_border_left=0, min_border_right=0,
                min_border_top=0, min_border_bottom=0)
LEGB_Y = 10
for x, (m, col, sz) in zip([232, 249, 385, 401], B_MARK):
    legB.scatter([x], [LEGB_Y], marker=m, size=sz, fill_color=col, line_color="black",
                 line_width=0.8)
legB.text(x=[265, 415], y=[LEGB_Y, LEGB_Y], text=["literature", "our own study"],
          text_baseline="middle", text_font=value(FONT), text_font_size=value("15px"),
          text_color="black")

bcols = [column(*b_column(ci)) for ci in range(4)]
right_block = column(row(bcols[0], divider(), bcols[1], bcols[2], divider(), bcols[3]), legB)

layout = column(Spacer(width=1348, height=8),
                row(Spacer(width=8, height=577), left_block, right_block))
open("out.html", "w").write(file_html(layout, INLINE))
